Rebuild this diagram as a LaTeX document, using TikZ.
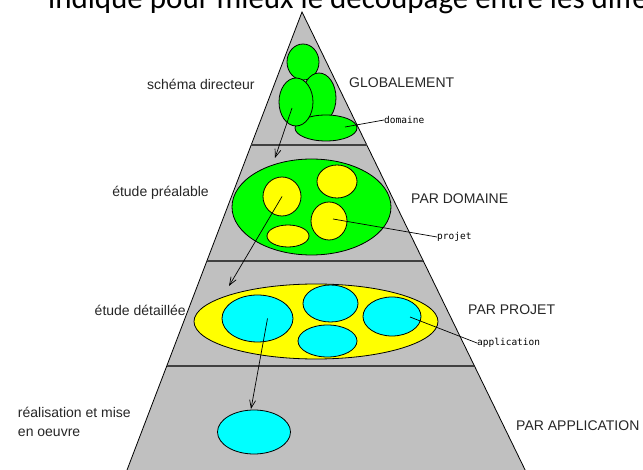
\documentclass[tikz,border=0pt]{standalone}
\usepackage{fontspec}
\setmainfont{Liberation Sans}
\newfontfamily\carlitofont{Carlito}
\newfontfamily\smallmono{DejaVu Sans Mono}
\usetikzlibrary{shapes.geometric,arrows.meta}
\definecolor{pgray}{HTML}{C0C0C0}
\definecolor{pline}{HTML}{404040}
\definecolor{pgreen}{HTML}{00FF00}
\definecolor{pyellow}{HTML}{FFFF00}
\definecolor{pcyan}{HTML}{00FFFF}
\begin{document}
\begin{tikzpicture}[x=1pt,y=-1pt,
  ell/.style={ellipse,draw=black,line width=0.8pt,inner sep=0pt},
  gell/.style={ell,fill=pgreen},
  yell/.style={ell,fill=pyellow},
  cell/.style={ell,fill=pcyan},
  lab/.style={font=\fontsize{14}{19}\selectfont,inner sep=0pt,text=black!85},
  tag/.style={font=\smallmono\fontsize{9.5}{11}\selectfont,inner sep=0pt},
  divline/.style={draw=pline,line width=1.8pt},
  arr/.style={-{Straight Barb[length=8pt,width=6pt]},line width=0.7pt},
  leader/.style={line width=0.7pt}]
\useasboundingbox (0,0) rectangle (643,470);
\clip (0,0) rectangle (643,470);
% cut-off title line
\node[anchor=base west,font=\carlitofont\fontsize{31}{36}\selectfont,inner sep=0pt] (title) at (48,9) {indique pour mieux le découpage entre les différents};
% pyramid
\coordinate (apex) at (302,12);
\coordinate (bl) at (123.2,480);
\coordinate (br) at (530,480);
\draw[fill=pgray,draw=black,line width=0.8pt] (apex) -- (br) -- (bl) -- cycle;
\coordinate (d1l) at (251.2,145); \coordinate (d1r) at (366.8,145);
\coordinate (d2l) at (206.9,261); \coordinate (d2r) at (423.3,261);
\coordinate (d3l) at (166.8,366); \coordinate (d3r) at (474.4,366);
\draw[divline] (d1l) -- (d1r);
\draw[divline] (d2l) -- (d2r);
\draw[divline] (d3l) -- (d3r);
% level 1: green ellipses
\node[gell,minimum width=32pt,minimum height=36pt] (gtop) at (303,62) {};
\node[gell,minimum width=34pt,minimum height=50pt] (gright) at (319,98) {};
\node[gell,minimum width=62pt,minimum height=26pt] (gbot) at (326,128) {};
\node[gell,minimum width=34pt,minimum height=48pt] (gleft) at (296,102) {};
% level 2
\node[gell,minimum width=159pt,minimum height=96pt] (dom) at (311.5,207) {};
\node[yell,minimum width=38pt,minimum height=39pt] (y1) at (282,196.5) {};
\node[yell,minimum width=40pt,minimum height=33pt] (y2) at (337,181.5) {};
\node[yell,minimum width=36pt,minimum height=38pt] (y3) at (329,221) {};
\node[yell,minimum width=42pt,minimum height=22pt] (y4) at (288,236) {};
% level 3
\node[yell,minimum width=244pt,minimum height=75pt] (proj) at (316,321.5) {};
\node[cell,minimum width=71pt,minimum height=47pt] (c1) at (257.5,318.5) {};
\node[cell,minimum width=55pt,minimum height=37pt] (c2) at (330.5,303.5) {};
\node[cell,minimum width=59pt,minimum height=32pt] (c3) at (327.5,341) {};
\node[cell,minimum width=58pt,minimum height=39pt] (c4) at (392,316.5) {};
% level 4
\node[cell,minimum width=73pt,minimum height=44pt] (app) at (254,432) {};
% arrows
\coordinate (t1) at (275,158);
\coordinate (t2) at (229,286);
\coordinate (t3) at (251,409);
\draw[arr] (gleft.center) ++(-4,6) -- (t1);
\draw[arr] (y1.center) -- (t2);
\draw[arr] (c1.center) ++(10,0) -- (t3);
% tags
\node[tag,anchor=west] (tdom) at (384,120) {domaine};
\node[tag,anchor=west] (tproj) at (437,237) {projet};
\node[tag,anchor=west] (tapp) at (477,343) {application};
\draw[leader] (gbot.center) ++(19,-1) -- (tdom.west);
\draw[leader] (y3.center) ++(4,-2) -- (tproj.west);
\draw[leader] (c4.center) ++(18,0.5) -- (tapp.west);
% left labels
\node[lab,anchor=west] (l1) at (147,84) {schéma directeur};
\node[lab,anchor=east] (l2) at (209,193) {étude préalable};
\node[lab,anchor=east] (l3) at (186,310) {étude détaillée};
\node[lab,anchor=north east,align=left] (l4) at (131,407) {réalisation et mise\\en oeuvre};
% right labels
\node[lab,anchor=west] (r1) at (349,83) {GLOBALEMENT};
\node[lab,anchor=west] (r2) at (411,199) {PAR DOMAINE};
\node[lab,anchor=west] (r3) at (468,310) {PAR PROJET};
\node[lab,anchor=west] (r4) at (516,426) {PAR APPLICATION};
\end{tikzpicture}
\end{document}
